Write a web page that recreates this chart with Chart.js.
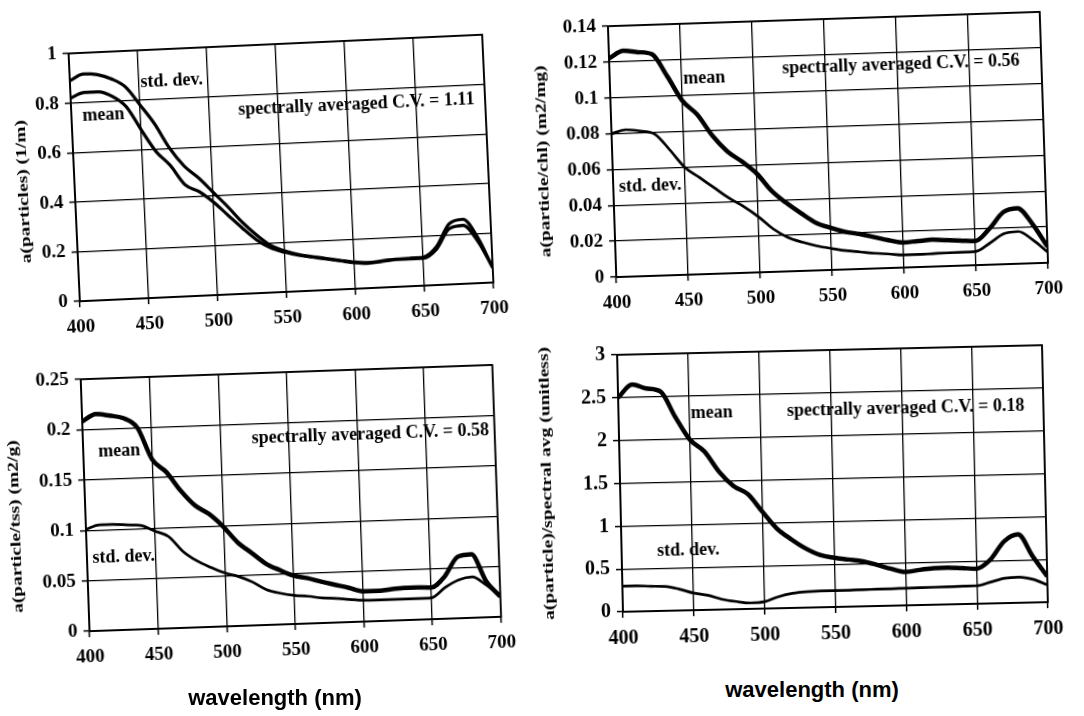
<!DOCTYPE html>
<html>
<head>
<meta charset="utf-8">
<script src="https://cdn.jsdelivr.net/npm/chart.js@4/dist/chart.umd.min.js"></script>
<style>
  body { margin: 0; background: #fff; width: 1084px; height: 716px; overflow: hidden; position: relative; }
  canvas { position: absolute; }
  .wl { position: absolute; font: bold 22px "Liberation Sans", Arial, sans-serif; color: #000; white-space: nowrap; transform: translateX(-50%); }
</style>
</head>
<body>
<canvas id="c1"></canvas>
<canvas id="c2"></canvas>
<canvas id="c3"></canvas>
<canvas id="c4"></canvas>
<div class="wl" style="left:275px; top:685px">wavelength (nm)</div>
<div class="wl" style="left:812px; top:677px">wavelength (nm)</div>
<script>
// wavelength grid (nm)
const wl = [400,410,420,430,440,450,460,470,480,490,500,510,520,530,540,550,560,570,580,590,600,610,620,630,640,650,660,670,680,690,700];

// a(particles) (1/m)
const partMean = [0.82,0.84,0.84,0.82,0.775,0.68,0.59,0.53,0.45,0.42,0.375,0.32,0.265,0.215,0.18,0.16,0.145,0.135,0.125,0.115,0.105,0.10,0.105,0.11,0.11,0.11,0.145,0.225,0.235,0.17,0.06];
const partStd  = [0.89,0.915,0.91,0.89,0.855,0.78,0.70,0.60,0.525,0.475,0.415,0.355,0.29,0.235,0.19,0.165,0.148,0.137,0.127,0.117,0.108,0.103,0.107,0.112,0.113,0.115,0.155,0.245,0.26,0.185,0.06];

// a(particle/chl) (m2/mg)
const chlMean = [0.122,0.126,0.125,0.1235,0.111,0.097,0.089,0.077,0.068,0.062,0.055,0.045,0.038,0.032,0.0265,0.0235,0.021,0.0195,0.0175,0.0155,0.014,0.0145,0.015,0.0145,0.014,0.0135,0.02,0.029,0.031,0.022,0.009];
const chlStd  = [0.080,0.082,0.081,0.079,0.070,0.060,0.054,0.048,0.042,0.037,0.031,0.024,0.019,0.016,0.0137,0.012,0.0105,0.0095,0.0085,0.0078,0.007,0.007,0.0072,0.0074,0.0075,0.0076,0.012,0.017,0.018,0.013,0.006];

// a(particle/tss) (m2/g)
const tssMean = [0.208,0.215,0.213,0.21,0.20,0.168,0.155,0.136,0.121,0.112,0.099,0.083,0.072,0.061,0.054,0.048,0.045,0.041,0.0375,0.034,0.030,0.030,0.031,0.032,0.032,0.0315,0.042,0.061,0.063,0.036,0.02];
const tssStd  = [0.101,0.105,0.105,0.104,0.103,0.097,0.091,0.076,0.066,0.059,0.053,0.049,0.043,0.035,0.031,0.0284,0.027,0.025,0.024,0.0225,0.0213,0.021,0.021,0.021,0.021,0.0213,0.031,0.038,0.0405,0.032,0.021];

// a(particle)/spectral avg (unitless)
const normMean = [2.5,2.65,2.6,2.56,2.26,1.99,1.85,1.61,1.44,1.34,1.13,0.93,0.80,0.69,0.61,0.575,0.55,0.525,0.48,0.43,0.39,0.41,0.425,0.43,0.42,0.41,0.51,0.72,0.80,0.54,0.30];
const normStd  = [0.30,0.30,0.29,0.285,0.25,0.20,0.17,0.12,0.09,0.07,0.08,0.135,0.17,0.185,0.19,0.19,0.192,0.195,0.196,0.198,0.20,0.202,0.204,0.206,0.208,0.21,0.25,0.29,0.30,0.27,0.20];

const serif = '"Liberation Serif", "DejaVu Serif", serif';

// box round the plot, notes inside it and the stretched y title
const deco = {
  id: 'deco',
  afterDatasetsDraw(chart, args, opts) {
    const ctx = chart.ctx, a = chart.chartArea;
    const sx = chart.scales.x, sy = chart.scales.y;
    ctx.save();
    ctx.strokeStyle = '#000';
    ctx.lineWidth = 1.8;
    ctx.strokeRect(a.left, a.top, a.right - a.left, a.bottom - a.top);
    ctx.fillStyle = '#000';
    ctx.font = 'bold 18px ' + serif;
    ctx.textBaseline = 'middle';
    ctx.textAlign = 'left';
    (opts.notes || []).forEach(n => {
      ctx.fillText(n[0], sx.getPixelForValue(n[1]), sy.getPixelForValue(n[2]));
    });
    ctx.translate(opts.titleX, opts.titleY);
    ctx.rotate(-Math.PI / 2);
    ctx.scale(1.3, 1);
    ctx.font = 'bold 15px ' + serif;
    ctx.textAlign = 'center';
    ctx.fillText(opts.title, 0, 0);
    ctx.restore();
  }
};
Chart.register(deco);

const panels = [
  { id: 'c1', mean: partMean, std: partStd, yMax: 1, yStep: 0.2, title: 'a(particles) (1/m)',
    box: [0, 0, 520, 345], plot: { left: 74, top: 44, right: 32, bottom: 53 }, titleX: 23, titleY: 180,
    rot: -2.6, meanW: 3.2, stdW: 3.2, tickSize: 19,
    notes: [['std. dev.', 451, 0.87], ['mean', 408, 0.745], ['spectrally averaged C.V. = 1.11', 521, 0.74]] },
  { id: 'c2', mean: chlMean, std: chlStd, yMax: 0.14, yStep: 0.02, title: 'a(particle/chl) (m2/mg)',
    box: [530, 0, 554, 322], plot: { left: 82, top: 19, right: 40, bottom: 52 }, titleX: 13, titleY: 152,
    rot: -1.9, meanW: 4.5, stdW: 2.7, tickSize: 19,
    notes: [['mean', 451, 0.109], ['spectrally averaged C.V. = 0.56', 520, 0.113], ['std. dev.', 404, 0.05]] },
  { id: 'c3', mean: tssMean, std: tssStd, yMax: 0.25, yStep: 0.05, title: 'a(particle/tss) (m2/g)',
    box: [0, 345, 520, 332], plot: { left: 85, top: 27, right: 20, bottom: 53 }, titleX: 15, titleY: 172,
    rot: -2.0, meanW: 4.5, stdW: 2.7, tickSize: 19,
    notes: [['mean', 411, 0.177], ['std. dev.', 404, 0.072], ['spectrally averaged C.V. = 0.58', 523, 0.185]] },
  { id: 'c4', mean: normMean, std: normStd, yMax: 3, yStep: 0.5, title: 'a(particle)/spectral avg (unitless)',
    box: [530, 330, 554, 330], plot: { left: 90, top: 20, right: 39, bottom: 53 }, titleX: 17, titleY: 147,
    rot: -1.3, meanW: 4.5, stdW: 2.7, tickSize: 20,
    notes: [['mean', 451, 2.29], ['spectrally averaged C.V. = 0.18', 519, 2.3], ['std. dev.', 425, 0.70]] }
];

function makeChart(p) {
  const cv = document.getElementById(p.id);
  cv.width = p.box[2];
  cv.height = p.box[3];
  cv.style.left = p.box[0] + 'px';
  cv.style.top = p.box[1] + 'px';
  const ox = (p.plot.left + p.box[2] - p.plot.right) / 2;
  const oy = (p.plot.top + p.box[3] - p.plot.bottom) / 2;
  cv.style.transformOrigin = ox + 'px ' + oy + 'px';
  cv.style.transform = 'rotate(' + p.rot + 'deg)';

  const grid = { color: '#000', lineWidth: 1.3, borderDash: [3, 4], drawTicks: true, tickLength: 6,
                 tickColor: '#000', tickWidth: 1.5, tickBorderDash: [] };
  const tickFont = { family: serif, size: p.tickSize, weight: 'bold' };

  new Chart(cv, {
    type: 'line',
    data: {
      datasets: [
        { label: 'mean', data: wl.map((x, i) => ({ x: x, y: p.mean[i] })), borderColor: '#000',
          borderWidth: p.meanW, pointRadius: 0, cubicInterpolationMode: 'monotone', fill: false },
        { label: 'std. dev.', data: wl.map((x, i) => ({ x: x, y: p.std[i] })), borderColor: '#000',
          borderWidth: p.stdW, pointRadius: 0, cubicInterpolationMode: 'monotone', fill: false }
      ]
    },
    options: {
      responsive: false,
      animation: false,
      layout: { padding: { top: p.plot.top, right: p.plot.right, left: 0, bottom: 0 } },
      plugins: {
        legend: { display: false },
        tooltip: { enabled: false },
        deco: { notes: p.notes, title: p.title, titleX: p.titleX, titleY: p.titleY }
      },
      scales: {
        x: {
          type: 'linear', min: 400, max: 700,
          ticks: { stepSize: 50, color: '#000', font: tickFont, padding: 9, maxRotation: 0 },
          grid: grid,
          border: { display: true, color: '#000', width: 1.8 },
          afterFit: s => { s.height = p.plot.bottom; }
        },
        y: {
          min: 0, max: p.yMax,
          ticks: { stepSize: p.yStep, color: '#000', font: tickFont, padding: 6,
                   callback: v => String(+v.toFixed(3)) },
          grid: grid,
          border: { display: true, color: '#000', width: 1.8 },
          afterFit: s => { s.width = p.plot.left; }
        }
      }
    }
  });
}

panels.forEach(makeChart);
</script>
</body>
</html>
